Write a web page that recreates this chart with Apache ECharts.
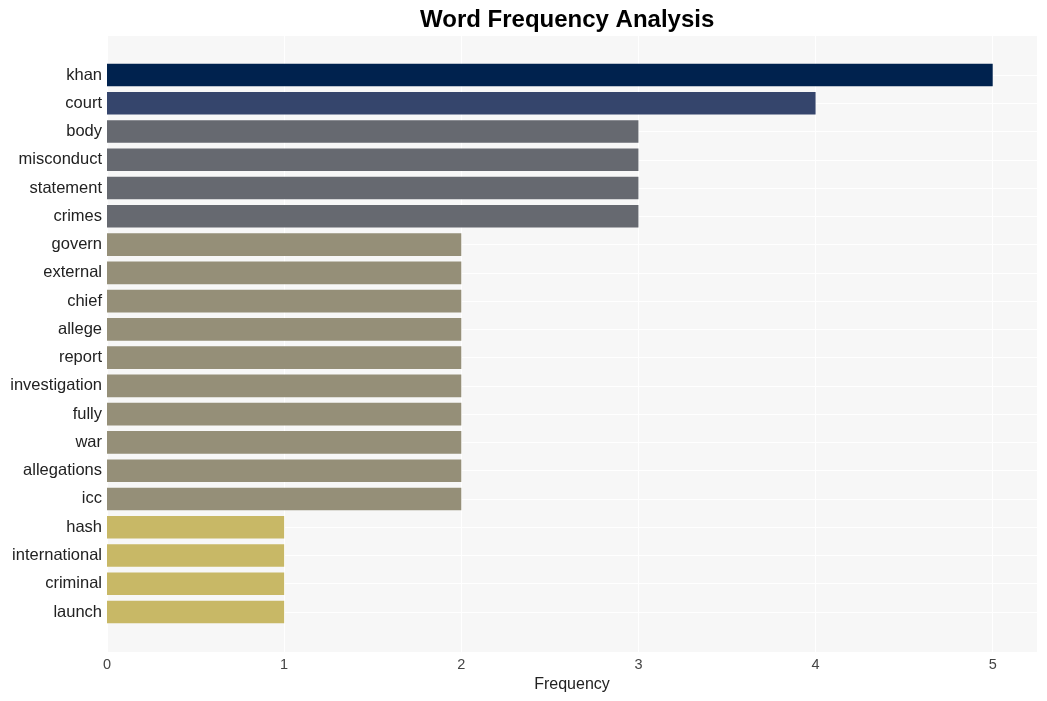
<!DOCTYPE html>
<html>
<head>
<meta charset="utf-8">
<script src="https://cdn.jsdelivr.net/npm/echarts@6/dist/echarts.min.js"></script>
<style>
html,body{margin:0;padding:0;background:#fff;}
#chart{width:1047px;height:701px;}
</style>
</head>
<body>
<div id="chart"></div>
<script>
const categories = ['khan','court','body','misconduct','statement','crimes','govern','external','chief','allege','report','investigation','fully','war','allegations','icc','hash','international','criminal','launch'];
const frequencies = [5,4,3,3,3,3,2,2,2,2,2,2,2,2,2,2,1,1,1,1];
const xTicks = [0,1,2,3,4,5];

const colorByValue = {5:'#00224e',4:'#35456c',3:'#666970',2:'#958f78',1:'#c8b866'};
const FONT = '"Liberation Sans", Arial, sans-serif';
const X_MAX = 5.25;

const chart = echarts.init(document.getElementById('chart'), null, {renderer:'canvas'});
chart.setOption({
  animation: false,
  backgroundColor: '#ffffff',
  title: {
    text: 'Word Frequency Analysis',
    left: 420, top: 8, padding: 0,
    textStyle: {fontFamily: FONT, fontSize: 24, fontWeight: 'bold', color: '#000'}
  },
  grid: [
    {left: 107, right: 10, top: 36, bottom: 49, show: true, backgroundColor: '#f7f7f7', borderWidth: 0, containLabel: false},
    {left: 107, right: 10, top: 75, bottom: 89, containLabel: false}
  ],
  xAxis: [
    {
      gridIndex: 0, type: 'value', min: 0, max: X_MAX, interval: 1,
      name: 'Frequency', nameLocation: 'middle', nameGap: 24,
      nameTextStyle: {fontFamily: FONT, fontSize: 16, color: '#222'},
      axisLine: {show: false}, axisTick: {show: false},
      axisLabel: {fontFamily: FONT, fontSize: 14.5, color: '#444', margin: 5, showMaxLabel: false,
        formatter: v => xTicks.includes(v) ? String(v) : ''},
      splitLine: {show: true, lineStyle: {color: '#ffffff', width: 1}}
    },
    {
      gridIndex: 1, type: 'value', min: 0, max: X_MAX, interval: 1, show: false,
      splitLine: {show: false}
    }
  ],
  yAxis: [
    {gridIndex: 0, type: 'value', show: false, splitLine: {show: false}},
    {
      gridIndex: 1, type: 'category', data: categories, inverse: true, boundaryGap: false,
      axisLine: {show: false}, axisTick: {show: false},
      axisLabel: {fontFamily: FONT, fontSize: 16.5, color: '#222', margin: 5},
      splitLine: {show: true, lineStyle: {color: '#ffffff', width: 1}}
    }
  ],
  series: [{
    type: 'bar', xAxisIndex: 1, yAxisIndex: 1,
    barWidth: '80%',
    itemStyle: {borderWidth: 0},
    data: frequencies.map(v => ({value: v, itemStyle: {color: colorByValue[v], borderWidth: 0}})),
    z: 3
  }]
});
</script>
</body>
</html>
